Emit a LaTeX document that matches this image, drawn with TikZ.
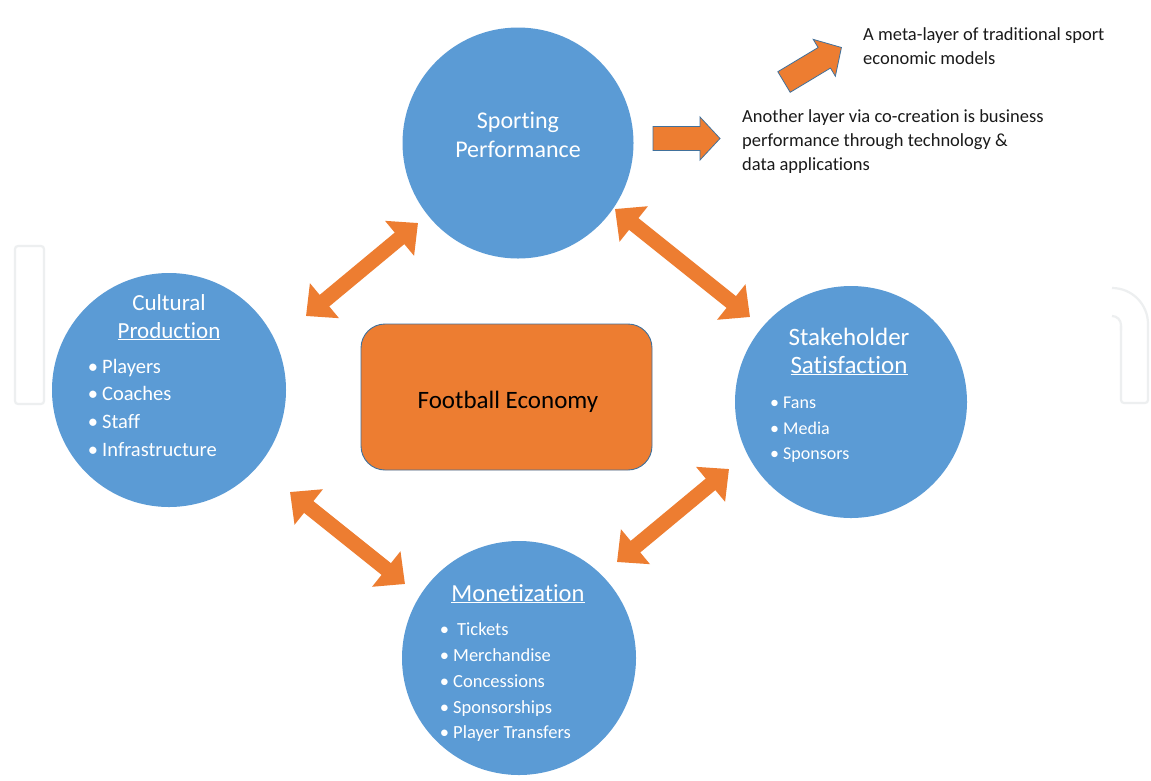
\documentclass[tikz,border=0pt]{standalone}
\usepackage{fontspec}
\setmainfont{Carlito}[Ligatures=NoCommon]
\usetikzlibrary{arrows.meta}
\definecolor{cblue}{HTML}{5B9BD5}
\definecolor{corange}{HTML}{ED7D31}
\definecolor{cedge}{HTML}{41719C}
\definecolor{wmark}{HTML}{EDEFF0}
\definecolor{ctext}{HTML}{1A1A1A}
\newcommand{\fsz}[1]{\fontsize{#1}{#1}\selectfont}
\newcommand{\bul}[1]{\llap{\textbullet\kern #1}}
\tikzset{
  bubble/.style={circle, fill=cblue, draw=none, minimum size=#1, inner sep=0pt},
  wlabel/.style={text=white, inner sep=0pt, anchor=base},
  witem/.style={text=white, inner sep=0pt, anchor=base west},
  note/.style={text=ctext, inner sep=0pt, anchor=base west, font=\fsz{18.5}},
  dblarrow/.style={draw=corange, line width=15pt,
    {Triangle[length=24pt,width=44pt]}-{Triangle[length=24pt,width=44pt]}},
  blockarrow/.style={fill=corange, draw=cedge, line width=0.8pt, line join=miter},
  watermark/.style={draw=wmark, line width=2.2pt}
}
\begin{document}
\begin{tikzpicture}[x=1pt,y=-1pt]
\useasboundingbox[fill=white] (0,0) rectangle (1151,780);

% faint watermark
\draw[watermark, rounded corners=3pt] (15,246) rectangle (44,404);
\draw[watermark] (1112,288) arc[start angle=-90, end angle=0, radius=36] [rounded corners=3pt] -- (1148,403) -- (1121,403) -- (1121,326);
\draw[watermark] (1112,316) arc[start angle=-90, end angle=0, radius=9] -- (1121,330);

% circles
\node[bubble=231pt] (sp) at (518,143) {};
\node[bubble=234pt] (cp) at (169,390) {};
\node[bubble=232pt] (st) at (851,402) {};
\node[bubble=234pt] (mo) at (519,658) {};

% central box
\node[fill=corange, draw=cedge, line width=0.9pt, rounded corners=24pt,
      minimum width=291pt, minimum height=146pt, inner sep=0pt] (fe) at (506.5,397) {};
\node[inner sep=0pt, anchor=base, font=\fsz{25}] (fel) at (508,408) {Football Economy};

% Sporting Performance
\node[wlabel, font=\fsz{24}] (sp1) at (518,128) {Sporting};
\node[wlabel, font=\fsz{24}] (sp2) at (518,157) {Performance};

% Cultural Production
\node[wlabel, font=\fsz{23}] (cp1) at (169,310) {Cultural};
\node[wlabel, font=\fsz{23}] (cp2) at (169,338) {\underline{Production}};
\node[witem, font=\fsz{20.5}] (cpa) at (102,373) {\bul{4pt}Players};
\node[witem, font=\fsz{20.5}] (cpb) at (102,400) {\bul{4pt}Coaches};
\node[witem, font=\fsz{20.5}] (cpc) at (102,428) {\bul{4pt}Staff};
\node[witem, font=\fsz{20.5}] (cpd) at (102,456) {\bul{4pt}Infrastructure};

% Stakeholder Satisfaction
\node[wlabel, font=\fsz{25}] (st1) at (849,345) {Stakeholder};
\node[wlabel, font=\fsz{25}] (st2) at (849,373) {\underline{Satisfaction}};
\node[witem, font=\fsz{18}] (sta) at (783,408) {\bul{4pt}Fans};
\node[witem, font=\fsz{18}] (stb) at (783,434) {\bul{4pt}Media};
\node[witem, font=\fsz{18}] (stc) at (783,459) {\bul{4pt}Sponsors};

% Monetization
\node[wlabel, font=\fsz{24.5}] (mo1) at (518,601) {\underline{Monetization}};
\node[witem, font=\fsz{18.5}] (moa) at (457,635) {\bul{8pt}Tickets};
\node[witem, font=\fsz{18.5}] (mob) at (453,661) {\bul{4pt}Merchandise};
\node[witem, font=\fsz{18.5}] (moc) at (453,687) {\bul{4pt}Concessions};
\node[witem, font=\fsz{18.5}] (mod) at (453,713) {\bul{4pt}Sponsorships};
\node[witem, font=\fsz{18.5}] (moe) at (453,738) {\bul{4pt}Player Transfers};

% double arrows between the circles
\coordinate (a1s) at (418,223); \coordinate (a1c) at (306,316);
\coordinate (a2s) at (615,209); \coordinate (a2t) at (750,317);
\coordinate (a3c) at (290,492); \coordinate (a3m) at (405,584);
\coordinate (a4t) at (729,469); \coordinate (a4m) at (617,562);
\draw[dblarrow] (a1s) -- (a1c);
\draw[dblarrow] (a2s) -- (a2t);
\draw[dblarrow] (a3c) -- (a3m);
\draw[dblarrow] (a4t) -- (a4m);

% block arrows and notes
\begin{scope}[shift={(653,138.5)}]
  \draw[blockarrow] (0,-12) -- (47,-12) -- (47,-21.5) -- (67,0) -- (47,21.5) -- (47,12) -- (0,12) -- cycle;
\end{scope}
\begin{scope}[shift={(784,82)}, rotate=31]
  \draw[blockarrow] (0,-12) -- (47,-12) -- (47,-21.5) -- (67,0) -- (47,21.5) -- (47,12) -- (0,12) -- cycle;
\end{scope}

\node[note] (n1) at (863,40) {A meta-layer of traditional sport};
\node[note] (n2) at (863,64) {economic models};
\node[note] (n3) at (742,122) {Another layer via co-creation is business};
\node[note] (n4) at (742,146) {performance through technology \&};
\node[note] (n5) at (742,170) {data applications};
\end{tikzpicture}
\end{document}
